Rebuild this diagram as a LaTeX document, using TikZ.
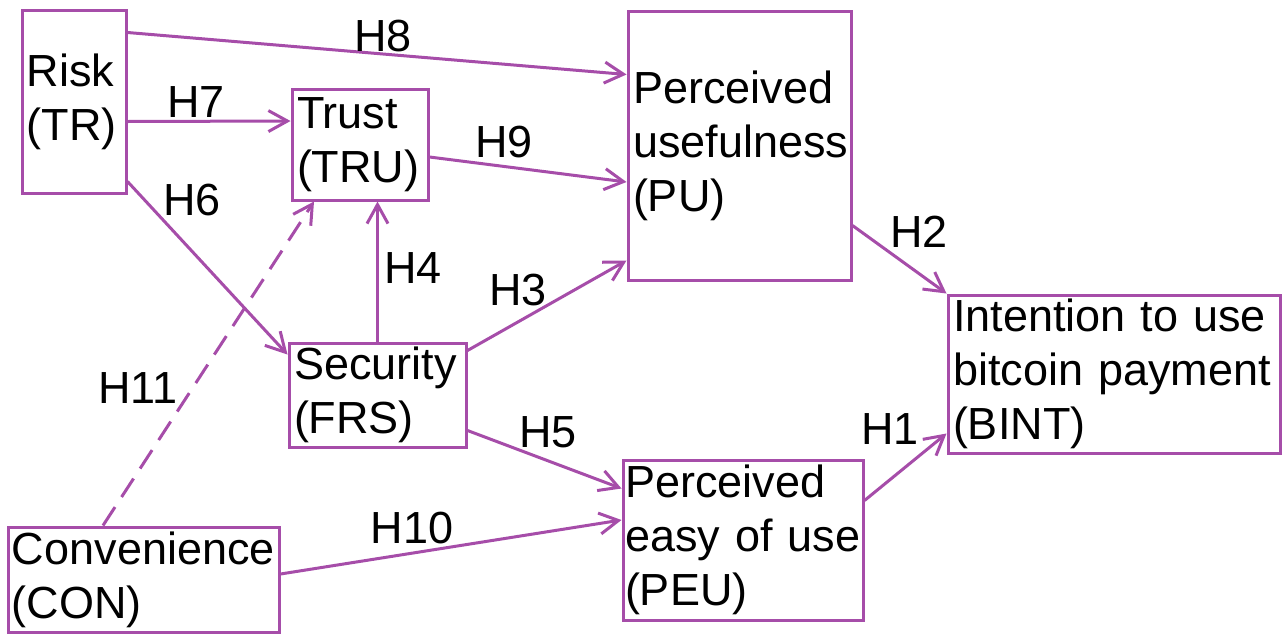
\documentclass[tikz,border=0pt]{standalone}
\usepackage{fontspec}
\setmainfont{Liberation Sans}
\usetikzlibrary{arrows.meta}
\definecolor{hypcol}{RGB}{166,77,169}

\begin{document}
\begin{tikzpicture}[x=1pt,y=-1pt]
         \tikzset{construct/.style={draw=hypcol,line width=3pt,align=left,inner xsep=5pt,inner ysep=0pt,
                  font=\fontsize{45}{54}\selectfont}}
         \tikzset{hyp/.style={draw=hypcol,line width=3pt,-{Straight Barb[length=19pt,width=21pt,line width=3pt]}}}
         \tikzset{hlabel/.style={font=\fontsize{45}{54}\selectfont,inner sep=0pt}}
         \useasboundingbox (0,0) rectangle (1285,635);
         \node[construct,text width=94pt,minimum height=183pt] (TR) at (74,101.5) {Risk\\(TR)};
         \node[construct,text width=126pt,minimum height=111pt] (TRU) at (360,144.5) {Trust\\(TRU)};
         \node[construct,text width=213pt,minimum height=269pt] (PU) at (739.5,145.5) {Perceived\\usefulness\\(PU)};
         \node[construct,text width=167pt,minimum height=104pt] (FRS) at (377.5,395) {Security\\(FRS)};
         \node[construct,text width=322pt,minimum height=158pt] (BINT) at (1114,374) {Intention to use\\bitcoin payment\\(BINT)};
         \node[construct,text width=236pt,minimum height=160pt,inner xsep=2pt] (PEU) at (743,540) {Perceived\\easy of use\\(PEU)};
         \node[construct,text width=263pt,minimum height=105pt,inner xsep=4pt] (CON) at (143.5,579.5) {Convenience\\(CON)};
         \draw[hyp] ([yshift=-24pt]TR.north east) -- ([yshift=-65pt]PU.north west);
         \draw[hyp] ([yshift=-20pt]TR.east) -- ([yshift=23.5pt]TRU.west);
         \draw[hyp] ([yshift=13pt]TR.south east) -- ([yshift=-13pt]FRS.north west);
         \draw[hyp] ([yshift=-12.5pt]TRU.east) -- ([yshift=-36.5pt]PU.west);
         \draw[hyp] (FRS.north) -- (FRS.north |- TRU.south);
         \draw[hyp,dash pattern=on 22pt off 12pt] ([xshift=-40.5pt]CON.north) -- ([xshift=-46pt]TRU.south);
         \draw[hyp] ([yshift=-9pt]FRS.north east) -- ([yshift=21pt]PU.south west);
         \draw[hyp] ([yshift=18pt]FRS.south east) -- ([yshift=-30pt]PEU.north west);
         \draw[hyp] ([yshift=5.5pt]CON.east) -- ([yshift=20pt]PEU.west);
         \draw[hyp] ([yshift=56pt]PU.south east) -- (BINT.north west);
         \draw[hyp] ([yshift=-42pt]PEU.north east) -- ([yshift=21pt]BINT.south west);
         \node[hlabel] (h8) at (383,36) {H8};
         \node[hlabel] (h7) at (196,102) {H7};
         \node[hlabel] (h6) at (192,200) {H6};
         \node[hlabel] (h9) at (504,142) {H9};
         \node[hlabel] (h4) at (413,268) {H4};
         \node[hlabel] (h3) at (518,290) {H3};
         \node[hlabel] (h5) at (548,432) {H5};
         \node[hlabel] (h11) at (138,388) {H11};
         \node[hlabel] (h10) at (412,528) {H10};
         \node[hlabel] (h2) at (919,232) {H2};
         \node[hlabel] (h1) at (890,429) {H1};
      \end{tikzpicture}
\end{document}
